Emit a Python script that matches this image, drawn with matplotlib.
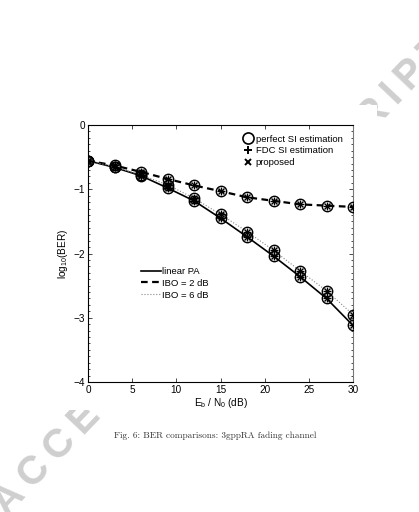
import matplotlib
matplotlib.use("Agg")
import matplotlib.pyplot as plt
from matplotlib.lines import Line2D
from matplotlib.patches import Rectangle

plt.rcParams['font.family'] = ['Liberation Sans', 'DejaVu Sans']
plt.rcParams['mathtext.fontset'] = 'custom'
plt.rcParams['mathtext.rm'] = 'Liberation Sans'
plt.rcParams['mathtext.it'] = 'Liberation Sans:italic'

# ---- data ----
ebn0 = [0, 3, 6, 9, 12, 15, 18, 21, 24, 27, 30]
ber_linear = [-0.556, -0.66, -0.79, -0.98, -1.18, -1.45, -1.74, -2.04, -2.36, -2.70, -3.12]
ber_ibo2 = [-0.556, -0.63, -0.73, -0.84, -0.94, -1.03, -1.125, -1.18, -1.235, -1.255, -1.275]
ber_ibo6 = [-0.556, -0.65, -0.78, -0.93, -1.14, -1.39, -1.66, -1.95, -2.27, -2.58, -2.95]

pa_labels = ['linear PA', 'IBO = 2 dB', 'IBO = 6 dB']
method_labels = ['perfect SI estimation', 'FDC SI estimation', 'proposed']
xticks = [0, 5, 10, 15, 20, 25, 30]
yticks = [0, -1, -2, -3, -4]
caption = 'Fig. 6: BER comparisons: 3gppRA fading channel'
watermark = 'ACCEPTED MANUSCRIPT'

W, H = 419, 512
fig = plt.figure(figsize=(W / 100, H / 100), dpi=100)

# watermark (slightly letter-spaced) behind the figure image
fig.text(-1 / W, 1 - 509 / H, '\u2009'.join(watermark), rotation=46.5, fontsize=29,
         fontweight='bold', color='#cfcfcf', ha='left', va='center',
         rotation_mode='anchor', zorder=0)
fig.patches.append(Rectangle((50 / W, 1 - 410 / H), (377 - 50) / W, (410 - 105) / H,
                             transform=fig.transFigure, facecolor='white',
                             edgecolor='none', zorder=1))

ax = fig.add_axes([88 / W, 1 - 382 / H, (353 - 88) / W, (382 - 125) / H])
ax.set_zorder(2)

styles = [dict(color='black', lw=1.2, ls='-'),
          dict(color='black', lw=1.6, ls=(0, (3, 2))),
          dict(color='#888888', lw=0.8, ls=':')]
for vals, st in zip([ber_linear, ber_ibo2, ber_ibo6], styles):
    ax.plot(ebn0, vals, **st, zorder=2)
    ax.plot(ebn0, vals, ls='none', marker='o', ms=7.5, mfc='none', mec='black', mew=1.0, zorder=3)
    ax.plot(ebn0, vals, ls='none', marker='+', ms=6, mec='black', mew=1.0, zorder=3)
    ax.plot(ebn0, vals, ls='none', marker='x', ms=4.5, mec='black', mew=1.0, zorder=3)

ax.set_xlim(0, 30)
ax.set_ylim(-4, 0)
ax.set_xticks(xticks)
ax.set_yticks(yticks)
ax.set_xticklabels([str(v) for v in xticks])
ax.set_yticklabels(['0', '\u22121', '\u22122', '\u22123', '\u22124'])
ax.set_yticks([-4 + 0.1 * i for i in range(41)], minor=True)
ax.tick_params(which='both', direction='in', top=True, right=True, labelsize=7.2,
               pad=2, colors='black', width=0.5)
ax.tick_params(which='major', length=3)
ax.tick_params(which='minor', length=1.5)
for s in ax.spines.values():
    s.set_linewidth(0.8)
ax.spines['right'].set_color('#777777')

ax.set_xlabel(r'E$_\mathrm{b}$ / N$_\mathrm{0}$ (dB)', fontsize=7.2, labelpad=1)
ax.set_ylabel(r'log$_{10}$(BER)', fontsize=7.2, labelpad=3)

h1 = [Line2D([], [], ls='none', marker='o', ms=8, mfc='none', mec='black', mew=1.2),
      Line2D([], [], ls='none', marker='+', ms=6, mec='black', mew=1.4),
      Line2D([], [], ls='none', marker='x', ms=4.5, mec='black', mew=1.4)]
leg1 = ax.legend(h1, method_labels, loc='upper left', bbox_to_anchor=(0.585, 0.962),
                 frameon=False, fontsize=6.8, handlelength=1.0, handletextpad=0.35,
                 borderpad=0, labelspacing=0.28, borderaxespad=0)
ax.add_artist(leg1)
h2 = [Line2D([], [], **styles[0]), Line2D([], [], **styles[1]), Line2D([], [], **styles[2])]
ax.legend(h2, pa_labels, loc='upper left', bbox_to_anchor=(0.2, 0.448),
          frameon=False, fontsize=6.8, handlelength=2.1, handletextpad=0.1,
          borderpad=0, labelspacing=0.3, borderaxespad=0)

fig.text(215 / W, 1 - 436 / H, caption, family=['cmr10', 'DejaVu Serif'], fontsize=6.7,
         ha='center', va='center', color='#333333', zorder=3)

fig.savefig('out.png', dpi=100)
